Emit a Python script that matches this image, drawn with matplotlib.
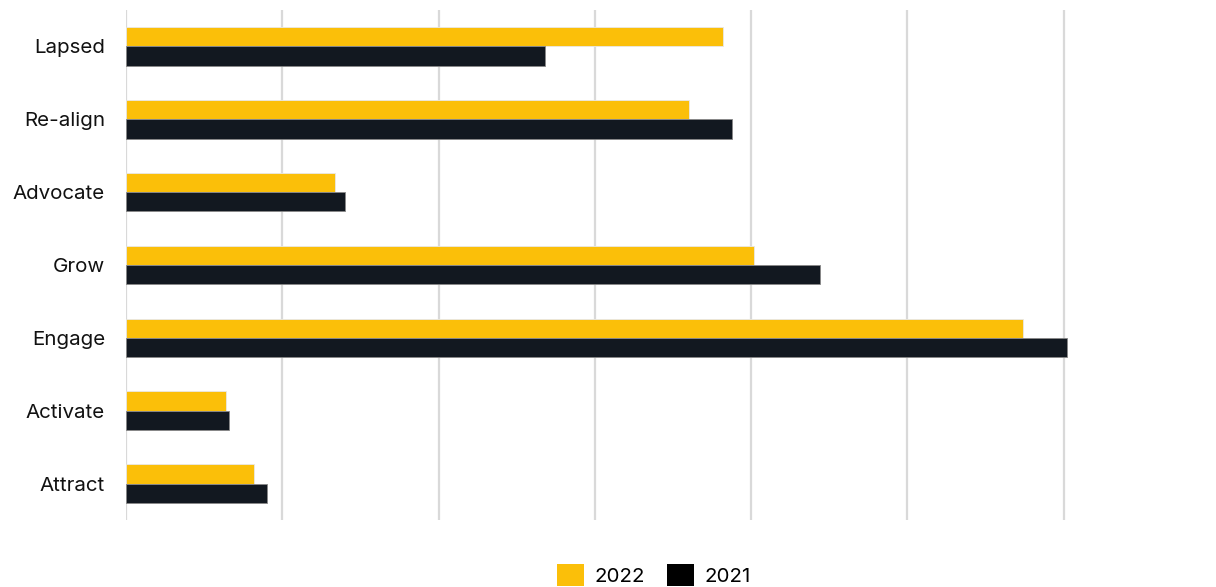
import numpy as np
import matplotlib.pyplot as plt
from matplotlib.patches import Patch

plt.rcParams['font.family'] = ['Inter', 'DejaVu Sans']

categories = ['Lapsed', 'Re-align', 'Advocate', 'Grow', 'Engage', 'Activate', 'Attract']
values_2022 = [19.1, 18.0, 6.7, 20.1, 28.7, 3.2, 4.1]
values_2021 = [13.4, 19.4, 7.0, 22.2, 30.1, 3.3, 4.5]

yellow = '#FBBF09'
dark = '#121820'

fig = plt.figure(figsize=(12.16, 5.87), dpi=100)
ax = fig.add_axes([126 / 1216, 1 - 520 / 587, (1220 - 126) / 1216, 510 / 587])

y = np.arange(len(categories))
h = 0.265
ax.barh(y - h / 2, values_2022, height=h, color=yellow, edgecolor='#e8e8e8', linewidth=0.6, zorder=3)
ax.barh(y + h / 2, values_2021, height=h, color=dark, edgecolor='#888888', linewidth=0.6, zorder=3)

ax.set_xlim(0, 35)
ax.set_ylim(len(categories) - 0.5, -0.5)
ax.set_xticks(np.arange(0, 31, 5))
ax.set_xticklabels([])
ax.tick_params(axis='x', length=0)
ax.tick_params(axis='y', length=0, pad=15, labelsize=14.8)
ax.set_yticks(y)
ax.set_yticklabels(categories, color='#111111')
ax.grid(axis='x', color='#d9d9d9', linewidth=1.6, zorder=0)
for s in ax.spines.values():
    s.set_visible(False)

handles = [Patch(facecolor=yellow, label='2022'), Patch(facecolor='#000000', label='2021')]
fig.legend(handles=handles, loc='center', bbox_to_anchor=(654 / 1216, 1 - 575 / 587),
           ncol=2, frameon=False, fontsize=14.8, handlelength=1.3, handleheight=1.3,
           handletextpad=0.5, columnspacing=1.1)

fig.savefig('out.png', dpi=100)
